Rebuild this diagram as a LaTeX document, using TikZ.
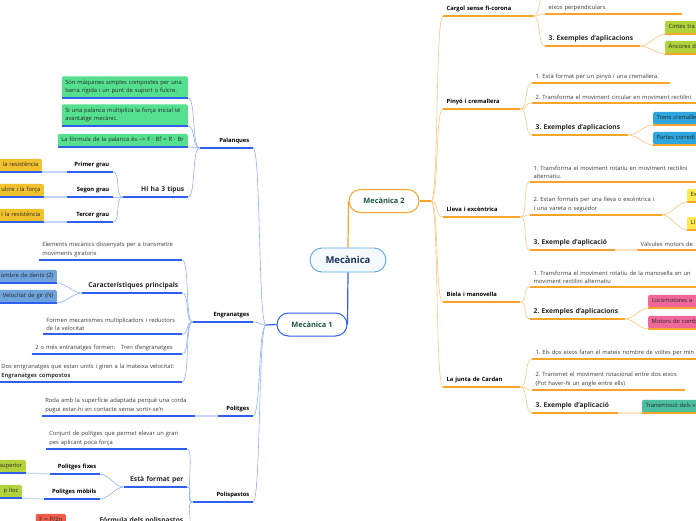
\documentclass[tikz,border=0pt]{standalone}
\usepackage{fontspec}
\setmainfont{Open Sans}
\hyphenpenalty=10000
\frenchspacing
\definecolor{mblue}{HTML}{2F5FF0}
\definecolor{lblue}{HTML}{8FB0FA}
\definecolor{pblue}{HTML}{C3D4FD}
\definecolor{morange}{HTML}{F8A32A}
\definecolor{lorange}{HTML}{FCC77E}
\definecolor{porange}{HTML}{FDE3BF}
\definecolor{txtgray}{HTML}{3A3A3A}
\definecolor{boxgray}{HTML}{262626}
\definecolor{topicgreen}{HTML}{1E5245}
\definecolor{mecblue}{HTML}{5AA7E6}
\definecolor{mecfill}{HTML}{F4FAFF}
\definecolor{mecnavy}{HTML}{17305A}
\definecolor{cgreen}{HTML}{55E08F}
\definecolor{cgold}{HTML}{F2C12E}
\definecolor{csteel}{HTML}{6FA3DC}
\definecolor{clime}{HTML}{B3D33C}
\definecolor{cred}{HTML}{EC5B4B}
\definecolor{csky}{HTML}{2EA7E0}
\definecolor{cyellow}{HTML}{FCE94F}
\definecolor{cpink}{HTML}{F0679A}
\definecolor{cteal}{HTML}{4CBF9E}
\tikzset{
  uline/.style={append after command={(\tikzlastnode.south west) edge[draw=#1,line width=1.1pt] (\tikzlastnode.south east)}},
  basetxt/.style={font=\fontsize{5.8}{8.5}\selectfont, text=txtgray, inner xsep=3.5pt, inner ysep=3pt},
  headtxt/.style={font=\bfseries\fontsize{5.8}{7}\selectfont, text=black, inner xsep=3.5pt, inner ysep=3.5pt, text depth=1.5pt},
  sectxt/.style={font=\bfseries\fontsize{6.7}{8}\selectfont, text=boxgray, inner xsep=3.5pt, inner ysep=3.5pt, text depth=1.5pt},
  boxtxt/.style={font=\fontsize{5.8}{8.5}\selectfont, text=boxgray, rounded corners=2pt, inner xsep=3.5pt, inner ysep=3.5pt, text height=4.5pt, text depth=1.5pt},
  ltxt/.style={basetxt, uline=mblue, anchor=south east, align=left},
  rtxt/.style={basetxt, uline=morange, anchor=south west, align=left},
  lhead/.style={headtxt, uline=mblue, anchor=south east, align=right},
  rhead/.style={headtxt, uline=morange, anchor=south west, align=left},
  lsec/.style={sectxt, uline=mblue, anchor=south east, align=right},
  rsec/.style={sectxt, uline=morange, anchor=south west, align=left},
  lbox/.style={boxtxt, fill=#1, uline=mblue, anchor=south east, align=right},
  rbox/.style={boxtxt, fill=#1, uline=morange, anchor=south west, align=left},
  lnote/.style={basetxt, text=boxgray, fill=#1, rounded corners=2pt, inner ysep=3.6pt, uline=mblue, anchor=south east, align=left},
  lcon/.style={draw=lblue, line width=0.6pt, out=180, in=0, distance=8pt},
  rcon/.style={draw=lorange, line width=0.6pt, out=0, in=180, distance=8pt},
  lseg/.style={draw=pblue, line width=1.1pt},
  rseg/.style={draw=porange, line width=1.1pt},
  trunk/.style={draw=#1, line width=1.2pt},
  topic/.style={draw=#1, fill=white, line width=1pt, rounded corners=11.5pt, minimum width=70pt, minimum height=23pt, font=\bfseries\fontsize{7.4}{9}\selectfont, text=topicgreen}
}

\begin{document}
\begin{tikzpicture}[x=1pt,y=-1pt]
  \useasboundingbox (0,0) rectangle (696,520);
  \fill[white] (0,0) rectangle (696,520);
  \clip (0,0) rectangle (696,520);

  \node (mec) [draw=mecblue, fill=mecfill, line width=0.9pt, rounded corners=12pt, minimum width=76pt, minimum height=24pt, font=\bfseries\fontsize{9.5}{11}\selectfont, text=mecnavy] at (348,260) {Mecànica};
  \node (m1) [topic=mblue] at (312,324.5) {Mecànica 1};
  \node (m2) [topic=morange] at (384,201) {Mecànica 2};
  \coordinate (h1) at (266,325);
  \coordinate (h2) at (431,201);

  \node (pal) [lhead, text width=46pt] at (253,148) {Palanques};
  \node (eng) [lhead, text width=53pt] at (253,322) {Engranatges};
  \node (pol) [lhead, text width=28pt] at (253,416) {Politges};
  \node (polis) [lhead, text width=53pt] at (253,502) {Polispastos};

  \node (pal1) [lnote=cgreen, text width=119pt] at (188,98) {Són màquines simples compostes per una\\barra rígida i un punt de suport o fulcre.};
  \node (pal2) [lnote=cgreen, text width=119pt] at (188,126) {Si una palanca multiplica la força inicial té\\avantatge mecànic.};
  \node (pal3) [lbox=cgreen, align=left, text width=123pt] at (188,147) {La fórmula de la palanca és --> F · Bf = R · Br};
  \node (hi3) [lsec, text width=58pt] at (188,197) {Hi ha 3 tipus};
  \node (primer) [lhead, text width=39pt] at (113,172) {Primer grau};
  \node (segon) [lhead, text width=39pt] at (113,197) {Segon grau};
  \node (tercer) [lhead, text width=39pt] at (113,222) {Tercer grau};
  \node (grau1) [lbox=cgold, text width=45pt] at (42,172) {la resistència};
  \node (grau2) [lbox=cgold, text width=47pt] at (44,197) {ulcre i la força};
  \node (grau3) [lbox=cgold, text width=47pt] at (44,222) {i la resistència};

  \node (eng1) [ltxt, text width=136pt] at (182,260) {Elements mecànics dissenyats per a transmetre\\moviments giratoris};
  \node (car) [lsec, text width=93pt] at (182,293) {Característiques principals};
  \node (dents) [lbox=csteel, text width=60pt] at (57,283) {ombre de dents (Z)};
  \node (gir) [lbox=csteel, text width=60pt] at (57,303) {Velocitat de gir (N)};
  \node (eng3) [ltxt, text width=132pt] at (182,334) {Formen mecanismes multiplicadors i reductors\\de la velocitat};
  \node (eng4) [ltxt, text width=143pt] at (182,354) {2 o més entranatges formen:\ \ \ Tren d'engranatges};
  \node (eng5) [ltxt, text width=177pt] at (182,382) {Dos entgranatges que estan units i giren a la mateixa velocitat:\\\textbf{Engranatges compostos}};

  \node (pol1) [ltxt, text width=146pt] at (195,416) {Roda amb la superfície adaptada perquè una corda\\pugui estar-hi en contacte sense sortir-se'n};

  \node (polis1) [ltxt, text width=134pt] at (187,449) {Conjunt de politges que permet elevar un gran\\pes aplicant poca força};
  \node (format) [lsec, text width=56pt] at (187,487) {Està format per};
  \node (fixes) [lhead, text width=43pt] at (100,474) {Politges fixes};
  \node (mobils) [lhead, text width=49pt] at (100,499) {Politges mòbils};
  \node (sup) [lbox=clime, text width=29pt] at (26,473) {superior};
  \node (lloc) [lbox=clime, text width=25pt] at (22,498) {p lloc};
  \node (formula) [lsec, text width=90pt] at (187,528) {Fórmula dels polispastos};
  \node (frm) [lbox=cred, align=center, text width=23pt] at (66,527) {F = P/2n};

  \node (cargol) [rhead, text width=83pt] at (443,16) {Cargol sense fi-corona};
  \node (pinyo) [rhead, text width=70pt] at (443,109) {Pinyó i cremallera};
  \node (lleva) [rhead, text width=70pt] at (443,217) {Lleva i excèntrica};
  \node (biela) [rhead, text width=70pt] at (443,302) {Biela i manovella};
  \node (cardan) [rhead, text width=70pt] at (443,387) {La junta de Cardan};

  \coordinate (cg0) at (547,-16);
  \node (cg2) [rtxt, text width=130pt] at (545,14) {eixos perpendiculars.};
  \node (cg3) [rsec, text width=88pt] at (545,46) {3. Exemples d'aplicacions};
  \node (cint) [rbox=clime, text width=60pt] at (665,34) {Cintes tra};
  \node (anc) [rbox=clime, text width=60pt] at (665,54) {Àncores d};

  \node (pn1) [rtxt, text width=131pt] at (532,83) {1. Està format per un pinyó i una cremallera.};
  \node (pn2) [rtxt, text width=171pt] at (532,103) {2. Transforma el moviment circular en moviment rectilini};
  \node (pn3) [rsec, text width=89pt] at (532,135) {3. Exemples d'aplicacions};
  \node (trens) [rbox=csky, text width=60pt] at (653,125) {Trens cremalle};
  \node (portes) [rbox=csky, text width=60pt] at (653,145) {Partes corredi};

  \node (lv1) [rtxt, text width=173pt] at (530,182) {1. Transforma el moviment rotatiu en moviment rectilini\\alternatiu.};
  \node (lv2) [rtxt, text width=125pt] at (530,215) {2. Estan formats per una lleva o excèntrica i\\i una vareta o seguidor};
  \node (exc) [rbox=cyellow, text width=30pt] at (687,202) {Ex};
  \node (llv) [rbox=cyellow, text width=30pt] at (687,230) {Ll};
  \node (lv3) [rsec, text width=78pt] at (530,250) {3. Exemple d'aplicació};
  \node (valv) [rtxt, text width=70pt] at (637,250) {Vàlvules motors de};

  \node (bi1) [rtxt, text width=173pt] at (530,287) {1. Transforma el moviment rotatiu de la manovella en un\\moviment rectilini alternatiu};
  \node (bi2) [rsec, text width=88pt] at (530,319) {2. Exemples d'aplicacions};
  \node (loco) [rbox=cpink, text width=60pt] at (648,308) {Locomotores a};
  \node (motors) [rbox=cpink, text width=60pt] at (648,329) {Motors de comb};

  \node (cd1) [rtxt, text width=171pt] at (532,359) {1. Els dos eixos faran el mateix nombre de voltes per min};
  \node (cd2) [rtxt, text width=146pt] at (532,390) {2. Transmet el moviment rotacional entre dos eixos\\(Pot haver-hi un angle entre ells)};
  \node (cd3) [rsec, text width=79pt] at (532,413) {3. Exemple d'aplicació};
  \node (trans) [rbox=cteal, text width=70pt] at (642,413) {Transmissió dels v};

  \path
  (mec.north) edge [trunk=morange] (m2.west)
  (mec.south) edge [trunk=mblue] (m1.east)
  (m1.west) edge [trunk=mblue] (h1)
  (m2.east) edge [trunk=morange] (h2)

  (h1) edge [lcon] (pal.south east)
       edge [lcon] (eng.south east)
       edge [lcon] (pol.south east)
       edge [lcon] (polis.south east)

  (pal.south west) edge [lcon] (pal1.south east)
                   edge [lcon] (pal2.south east)
                   edge [lcon] (pal3.south east)
                   edge [lcon] (hi3.south east)
  (hi3.south west) edge [lcon] (primer.south east)
                   edge [lcon] (segon.south east)
                   edge [lcon] (tercer.south east)
  (primer.south west) edge [lseg] (grau1.south east)
  (segon.south west) edge [lseg] (grau2.south east)
  (tercer.south west) edge [lseg] (grau3.south east)

  (eng.south west) edge [lcon] (eng1.south east)
                   edge [lcon] (car.south east)
                   edge [lcon] (eng3.south east)
                   edge [lcon] (eng4.south east)
                   edge [lcon] (eng5.south east)
  (car.south west) edge [lcon] (dents.south east)
                   edge [lcon] (gir.south east)

  (pol.south west) edge [lseg] (pol1.south east)

  (polis.south west) edge [lcon] (polis1.south east)
                     edge [lcon] (format.south east)
                     edge [lcon] (formula.south east)
  (format.south west) edge [lcon] (fixes.south east)
                      edge [lcon] (mobils.south east)
  (fixes.south west) edge [lseg] (sup.south east)
  (mobils.south west) edge [lseg] (lloc.south east)
  (formula.south west) edge [lseg] (frm.south east)

  (h2) edge [rcon] (cargol.south west)
       edge [rcon] (pinyo.south west)
       edge [rcon] (lleva.south west)
       edge [rcon] (biela.south west)
       edge [rcon] (cardan.south west)

  (cargol.south east) edge [rcon] (cg0)
                      edge [rcon] (cg2.south west)
                      edge [rcon] (cg3.south west)
  (cg3.south east) edge [rcon] (cint.south west)
                   edge [rcon] (anc.south west)

  (pinyo.south east) edge [rcon] (pn1.south west)
                     edge [rcon] (pn2.south west)
                     edge [rcon] (pn3.south west)
  (pn3.south east) edge [rcon] (trens.south west)
                   edge [rcon] (portes.south west)

  (lleva.south east) edge [rcon] (lv1.south west)
                     edge [rcon] (lv2.south west)
                     edge [rcon] (lv3.south west)
  (lv2.south east) edge [rcon] (exc.south west)
                   edge [rcon] (llv.south west)
  (lv3.south east) edge [rseg] (valv.south west)

  (biela.south east) edge [rcon] (bi1.south west)
                     edge [rcon] (bi2.south west)
  (bi2.south east) edge [rcon] (loco.south west)
                   edge [rcon] (motors.south west)

  (cardan.south east) edge [rcon] (cd1.south west)
                      edge [rcon] (cd2.south west)
                      edge [rcon] (cd3.south west)
  (cd3.south east) edge [rseg] (trans.south west)
  ;
\end{tikzpicture}
\end{document}
